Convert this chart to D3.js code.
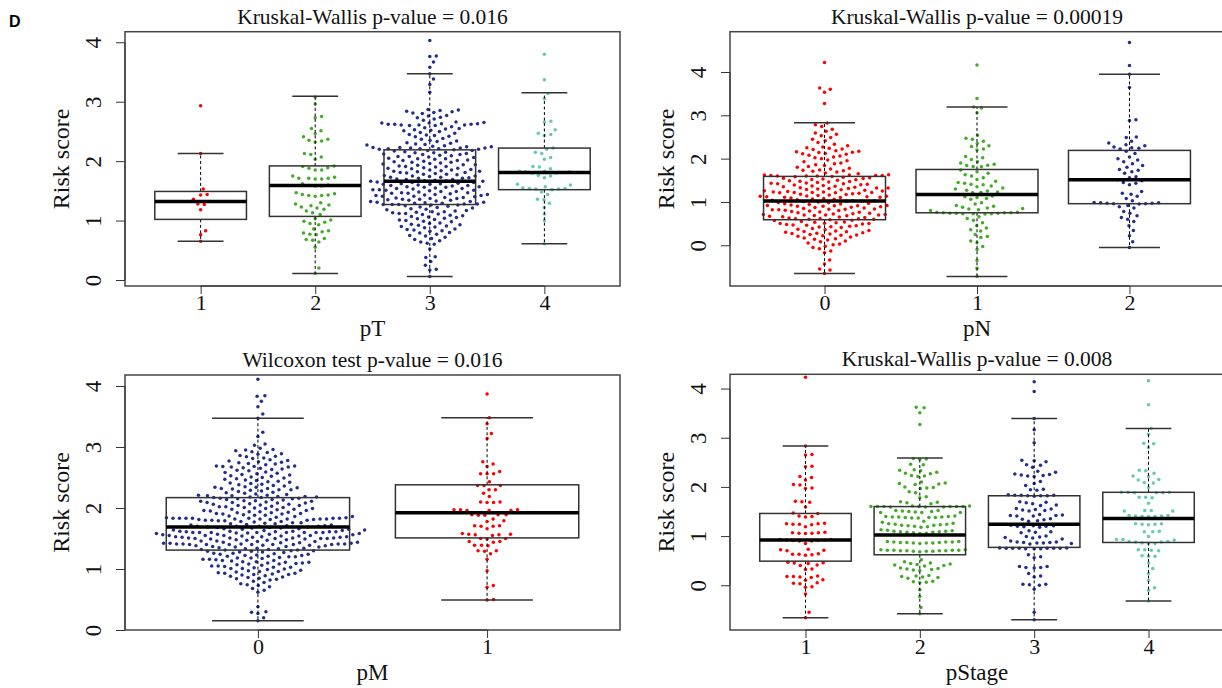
<!DOCTYPE html>
<html><head><meta charset="utf-8">
<script src="https://cdn.jsdelivr.net/npm/d3@7"></script>
<style>body{margin:0;background:#fff;} svg{display:block;font-family:"Liberation Serif","Times New Roman",serif;}</style>
</head><body><svg id="chart" width="1222" height="688"></svg>
<script>
// ---------------- DATA ----------------
const pTCategories = ["1", "2", "3", "4"];
const pNCategories = ["0", "1", "2"];
const pMCategories = ["0", "1"];
const pStageCategories = ["1", "2", "3", "4"];
const yTickValues = [0, 1, 2, 3, 4];

const titles = ["Kruskal-Wallis p-value = 0.016", "Kruskal-Wallis p-value = 0.00019",
                "Wilcoxon test p-value = 0.016", "Kruskal-Wallis p-value = 0.008"];
const xLabels = ["pT", "pN", "pM", "pStage"];

// box stats: [lower whisker, Q1, median, Q3, upper whisker]
const pTBoxes = [[0.65, 1.02, 1.32, 1.49, 2.13], [0.11, 1.07, 1.59, 1.92, 3.09], [0.06, 1.27, 1.66, 2.19, 3.47], [0.61, 1.52, 1.81, 2.22, 3.15]];
const pNBoxes = [[-0.65, 0.59, 1.02, 1.59, 2.83], [-0.72, 0.75, 1.17, 1.75, 3.19], [-0.05, 0.96, 1.51, 2.19, 3.95]];
const pMBoxes = [[0.15, 1.31, 1.69, 2.17, 3.47], [0.49, 1.51, 1.92, 2.38, 3.48]];
const pStageBoxes = [[-0.66, 0.49, 0.92, 1.46, 2.83], [-0.58, 0.62, 1.02, 1.60, 2.59], [-0.70, 0.77, 1.24, 1.82, 3.39], [-0.32, 0.87, 1.36, 1.89, 3.19]];

const pT1 = [2.93, 2.13, 1.53, 1.44, 1.43, 1.36, 1.28, 1.27, 1.18, 0.83, 0.76, 0.65];
const pT2 = [3.08, 2.96, 2.75, 2.73, 2.55, 2.51, 2.46, 2.41, 2.37, 2.35, 2.34, 2.32,
  2.13, 2.11, 2.07, 2.03, 1.92, 1.91, 1.89, 1.88, 1.85, 1.85,
  1.75, 1.73, 1.71, 1.71, 1.70, 1.70, 1.71, 1.62, 1.60, 1.59, 1.58, 1.58,
  1.47, 1.45, 1.44, 1.43, 1.42, 1.42, 1.41,
  1.30, 1.28, 1.26, 1.25, 1.23, 1.21, 1.19, 1.16, 1.13, 1.10,
  1.03, 1.01, 0.99, 0.97, 0.95, 0.93, 0.86, 0.83, 0.81, 0.79, 0.77, 0.76,
  0.70, 0.68, 0.67, 0.64, 0.55, 0.20, 0.11];
const pT3 = [4.03, 3.77, 3.76, 3.67, 3.58, 3.47, 3.38, 3.29, 3.16,
  2.87, 2.86, 2.85, 2.84, 2.83, 2.82, 2.81, 2.80,
  2.77, 2.76, 2.74, 2.73, 2.71, 2.69,
  2.66, 2.65, 2.64, 2.64, 2.63, 2.63, 2.62, 2.62, 2.62, 2.61, 2.61, 2.61, 2.60, 2.60,
  2.58, 2.56, 2.55, 2.54, 2.53, 2.52, 2.51, 2.50,
  2.48, 2.47, 2.45, 2.44, 2.43, 2.42, 2.41,
  2.38, 2.37, 2.35, 2.34, 2.33, 2.31, 2.30,
  2.29, 2.28, 2.27, 2.26, 2.25, 2.24, 2.24, 2.23, 2.23, 2.22, 2.22, 2.22, 2.21, 2.21, 2.21, 2.20, 2.20,
  2.19, 2.18, 2.18, 2.17, 2.16, 2.15, 2.14, 2.14, 2.13, 2.12, 2.11, 2.11, 2.10,
  2.09, 2.08, 2.08, 2.07, 2.06, 2.05, 2.04, 2.04, 2.03, 2.02, 2.01, 2.01, 2.00,
  1.99, 1.98, 1.98, 1.97, 1.96, 1.95, 1.94, 1.94, 1.93, 1.92, 1.91, 1.91, 1.90,
  1.89, 1.88, 1.88, 1.87, 1.86, 1.85, 1.85, 1.84, 1.83, 1.83, 1.82, 1.81, 1.81, 1.80,
  1.79, 1.78, 1.78, 1.77, 1.76, 1.75, 1.75, 1.74, 1.73, 1.73, 1.72, 1.71, 1.71, 1.70,
  1.69, 1.69, 1.68, 1.67, 1.67, 1.66, 1.66, 1.65, 1.64, 1.64, 1.63, 1.62, 1.62, 1.61, 1.61, 1.60,
  1.59, 1.59, 1.58, 1.57, 1.57, 1.56, 1.56, 1.55, 1.54, 1.54, 1.53, 1.52, 1.52, 1.51, 1.51, 1.50,
  1.49, 1.49, 1.48, 1.47, 1.47, 1.46, 1.46, 1.45, 1.44, 1.44, 1.43, 1.42, 1.42, 1.41, 1.41, 1.40,
  1.39, 1.39, 1.38, 1.37, 1.37, 1.36, 1.36, 1.35, 1.34, 1.34, 1.33, 1.32, 1.32, 1.31, 1.31, 1.30,
  1.29, 1.29, 1.28, 1.28, 1.27, 1.27, 1.27, 1.26, 1.26, 1.25, 1.24, 1.23, 1.22, 1.21, 1.20,
  1.19, 1.18, 1.17, 1.16, 1.15, 1.15, 1.14, 1.13, 1.12, 1.12, 1.11, 1.10,
  1.09, 1.08, 1.07, 1.06, 1.05, 1.04, 1.03, 1.02, 1.01, 1.00,
  0.99, 0.98, 0.96, 0.95, 0.94, 0.93, 0.92, 0.91, 0.90,
  0.89, 0.88, 0.86, 0.85, 0.84, 0.83, 0.82, 0.80,
  0.79, 0.77, 0.75, 0.74, 0.72, 0.70, 0.68, 0.66, 0.64, 0.62, 0.60,
  0.52, 0.39, 0.38, 0.31, 0.25, 0.18, 0.17, 0.06];
const pT4 = [3.80, 3.37, 3.14, 3.05, 2.67, 2.66, 2.53, 2.47, 2.45, 2.43, 2.22, 2.20, 2.15, 2.13, 2.06, 2.03,
  1.91, 1.90, 1.87, 1.83, 1.83, 1.82, 1.82, 1.81, 1.80, 1.80, 1.76, 1.75, 1.72,
  1.61, 1.60, 1.57, 1.55, 1.54, 1.54, 1.53, 1.53, 1.52, 1.48, 1.44, 1.36, 1.35, 1.29, 1.22, 1.11, 1.00, 0.61];

const pN0 = [4.22, 3.63, 3.60, 3.53, 3.27,
  2.82, 2.78, 2.74, 2.68, 2.63, 2.59, 2.56, 2.53, 2.49, 2.45, 2.41, 2.37, 2.33, 2.30, 2.27, 2.25, 2.24, 2.22, 2.21,
  2.18, 2.17, 2.16, 2.15, 2.14, 2.12, 2.11, 2.10, 2.08, 2.06, 2.04, 2.02, 2.00,
  1.97, 1.95, 1.93, 1.90, 1.88, 1.86, 1.84, 1.82, 1.80, 1.78, 1.76, 1.74, 1.73, 1.72, 1.71,
  1.69, 1.67, 1.65, 1.63, 1.62, 1.62, 1.61, 1.61, 1.61, 1.60, 1.60, 1.60,
  1.59, 1.58, 1.57, 1.56, 1.55, 1.54, 1.53, 1.52, 1.51, 1.50,
  1.49, 1.48, 1.47, 1.46, 1.45, 1.44, 1.43, 1.42, 1.42, 1.41, 1.40,
  1.39, 1.38, 1.37, 1.36, 1.35, 1.34, 1.33, 1.32, 1.32, 1.31, 1.31, 1.30,
  1.29, 1.28, 1.27, 1.26, 1.25, 1.24, 1.23, 1.23, 1.22, 1.22, 1.22, 1.21, 1.21, 1.20,
  1.19, 1.18, 1.17, 1.16, 1.15, 1.14, 1.13, 1.13, 1.12, 1.12, 1.11, 1.11, 1.10,
  1.09, 1.08, 1.07, 1.06, 1.05, 1.04, 1.03, 1.03, 1.02, 1.02,
  1.01, 1.00, 0.99, 0.98, 0.97, 0.96, 0.95, 0.94, 0.93, 0.92, 0.92, 0.91, 0.91, 0.90, 0.90,
  0.89, 0.88, 0.87, 0.86, 0.85, 0.84, 0.83, 0.83, 0.82, 0.82, 0.81, 0.80,
  0.79, 0.78, 0.77, 0.76, 0.75, 0.74, 0.73, 0.72, 0.71, 0.71, 0.70, 0.70, 0.70, 0.69,
  0.68, 0.67, 0.66, 0.65, 0.64, 0.63, 0.62, 0.61, 0.61, 0.60, 0.60, 0.59,
  0.58, 0.57, 0.55, 0.54, 0.53, 0.52, 0.51, 0.50, 0.50,
  0.49, 0.48, 0.47, 0.46, 0.45, 0.44, 0.43, 0.42, 0.41,
  0.39, 0.37, 0.36, 0.34, 0.33, 0.32, 0.31, 0.30,
  0.29, 0.28, 0.27, 0.26, 0.25, 0.24, 0.23, 0.22, 0.21,
  0.19, 0.17, 0.15, 0.14, 0.12, 0.10, 0.08, 0.05, 0.03, 0.01,
  -0.02, -0.05, -0.08, -0.13, -0.17, -0.34, -0.43, -0.55, -0.57, -0.65];
const pN1 = [4.16, 3.39, 3.19, 3.17, 3.06,
  2.54, 2.47, 2.45, 2.40, 2.35, 2.30, 2.28, 2.22, 2.20,
  2.05, 2.02, 1.98, 1.93, 1.90, 1.87, 1.85, 1.84, 1.82, 1.81,
  1.74, 1.70, 1.66, 1.63, 1.60, 1.56, 1.52, 1.48, 1.45, 1.43, 1.41, 1.40,
  1.37, 1.35, 1.32, 1.30, 1.27, 1.25, 1.23, 1.22, 1.21,
  1.17, 1.14, 1.12, 1.10, 1.08, 1.06,
  0.98, 0.95, 0.92, 0.90, 0.88, 0.86, 0.85, 0.84, 0.82, 0.80,
  0.76, 0.76, 0.75, 0.75, 0.75, 0.74, 0.74, 0.74, 0.73, 0.73, 0.73, 0.72,
  0.66, 0.62, 0.58, 0.52, 0.45, 0.40, 0.36, 0.33, 0.25,
  0.20, 0.18, 0.10, 0.06, -0.03, -0.10, -0.35, -0.53, -0.72];
const pN2 = [4.68, 4.15, 3.95, 3.64, 2.90, 2.88,
  2.50, 2.49, 2.40, 2.36, 2.32, 2.30, 2.27, 2.25, 2.24, 2.22,
  2.17, 2.12, 2.04, 2.00, 1.97, 1.93,
  1.88, 1.84, 1.80, 1.75, 1.73, 1.70, 1.66,
  1.58, 1.56, 1.51, 1.49, 1.45, 1.43, 1.40,
  1.24, 1.20, 1.18, 1.13, 1.08, 1.03,
  0.99, 0.98, 0.98, 0.97, 0.97, 0.96, 0.96, 0.95, 0.92, 0.89, 0.86,
  0.78, 0.74, 0.68, 0.64, 0.60, 0.55, 0.45, 0.34, 0.22, 0.08, -0.05];

const pM0 = [4.11, 3.84, 3.83, 3.75, 3.66, 3.54, 3.47, 3.24, 3.17, 3.05, 3.03,
  2.98, 2.96, 2.95, 2.94, 2.92, 2.91,
  2.89, 2.88, 2.86, 2.85, 2.84, 2.82, 2.81,
  2.79, 2.78, 2.77, 2.76, 2.75, 2.74, 2.73, 2.72, 2.71,
  2.69, 2.69, 2.68, 2.68, 2.67, 2.67, 2.66, 2.65, 2.64, 2.63, 2.62, 2.61,
  2.59, 2.58, 2.57, 2.56, 2.55, 2.54, 2.53, 2.52, 2.51, 2.50,
  2.49, 2.48, 2.47, 2.46, 2.45, 2.44, 2.43, 2.42, 2.41, 2.40,
  2.39, 2.38, 2.37, 2.36, 2.35, 2.34, 2.34, 2.33, 2.32, 2.32, 2.31, 2.30, 2.30,
  2.29, 2.28, 2.27, 2.26, 2.25, 2.24, 2.23, 2.22, 2.21, 2.21, 2.20, 2.20,
  2.19, 2.19, 2.18, 2.18, 2.17, 2.17, 2.16, 2.16, 2.15, 2.15, 2.14, 2.14, 2.13, 2.12, 2.12, 2.11, 2.11, 2.10,
  2.09, 2.09, 2.08, 2.08, 2.07, 2.06, 2.06, 2.05, 2.04, 2.04, 2.03, 2.02, 2.02, 2.01, 2.01, 2.00,
  1.99, 1.99, 1.98, 1.98, 1.97, 1.96, 1.96, 1.95, 1.94, 1.94, 1.93, 1.92, 1.92, 1.91, 1.91, 1.90, 1.90,
  1.89, 1.88, 1.88, 1.87, 1.86, 1.86, 1.85, 1.84, 1.84, 1.83, 1.83, 1.83, 1.83, 1.83, 1.83, 1.83,
  1.82, 1.82, 1.82, 1.82, 1.82, 1.81, 1.81, 1.81, 1.80, 1.80, 1.80,
  1.79, 1.79, 1.78, 1.78, 1.77, 1.76, 1.76, 1.75, 1.74, 1.74, 1.73, 1.72, 1.72, 1.71, 1.71, 1.70, 1.70, 1.70, 1.70,
  1.69, 1.69, 1.68, 1.68, 1.67, 1.67, 1.66, 1.66, 1.65, 1.65, 1.64, 1.64, 1.63, 1.63, 1.62, 1.62, 1.62,
  1.61, 1.61, 1.61, 1.61, 1.60, 1.60, 1.60, 1.60, 1.60, 1.60, 1.60, 1.60,
  1.59, 1.59, 1.58, 1.58, 1.57, 1.57, 1.56, 1.56, 1.55, 1.55, 1.55, 1.55, 1.54, 1.54, 1.54,
  1.53, 1.53, 1.53, 1.52, 1.52, 1.52, 1.51, 1.51, 1.51, 1.51, 1.50, 1.50, 1.50, 1.50,
  1.49, 1.49, 1.48, 1.48, 1.47, 1.47, 1.46, 1.46, 1.45, 1.45, 1.44, 1.44, 1.43, 1.43, 1.42,
  1.42, 1.42, 1.41, 1.41, 1.41, 1.41, 1.41, 1.40, 1.40, 1.40, 1.40, 1.40, 1.40, 1.40,
  1.39, 1.39, 1.38, 1.38, 1.37, 1.37, 1.36, 1.36, 1.35, 1.34, 1.34, 1.33, 1.33, 1.32, 1.32, 1.31, 1.31, 1.30, 1.30,
  1.29, 1.29, 1.28, 1.28, 1.27, 1.26, 1.26, 1.25, 1.24, 1.24, 1.23, 1.22, 1.22, 1.21, 1.21, 1.20, 1.20,
  1.19, 1.18, 1.18, 1.17, 1.16, 1.16, 1.15, 1.14, 1.14, 1.13, 1.12, 1.12, 1.11, 1.11, 1.10, 1.10,
  1.09, 1.08, 1.08, 1.07, 1.06, 1.05, 1.05, 1.04, 1.03, 1.03, 1.02, 1.01, 1.01, 1.00,
  0.99, 0.98, 0.97, 0.96, 0.96, 0.95, 0.94, 0.93, 0.93, 0.92, 0.91, 0.91, 0.90,
  0.89, 0.88, 0.87, 0.86, 0.85, 0.84, 0.83, 0.82, 0.80,
  0.78, 0.76, 0.74, 0.73, 0.71, 0.68, 0.65, 0.62,
  0.38, 0.30, 0.29, 0.27, 0.20, 0.15];
const pM1 = [3.87, 3.48, 3.38, 3.22, 3.14,
  2.76, 2.72, 2.68, 2.60, 2.56, 2.56, 2.56, 2.43, 2.37, 2.37, 2.37, 2.30, 2.30, 2.24, 2.19,
  2.10, 2.10, 2.09, 2.09, 1.97, 1.97, 1.97, 1.96, 1.96, 1.96, 1.89, 1.89, 1.89, 1.88, 1.88,
  1.82, 1.79, 1.78, 1.71, 1.71, 1.70, 1.70, 1.66,
  1.58, 1.57, 1.57, 1.56, 1.56, 1.55, 1.50, 1.50, 1.49, 1.45, 1.45, 1.44,
  1.39, 1.39, 1.38, 1.30, 1.30, 1.29, 1.25, 1.16, 0.97, 0.73, 0.70, 0.50, 0.49];

const pStage1 = [4.23, 2.83, 2.66, 2.65, 2.42, 2.41, 2.21, 2.19, 2.14, 2.05, 2.04, 1.98, 1.97,
  1.71, 1.70, 1.69, 1.59, 1.47, 1.46, 1.41, 1.40, 1.39,
  1.26, 1.25, 1.25, 1.24, 1.24, 1.23, 1.19, 1.08, 1.07, 1.07, 1.06, 1.06, 1.05,
  0.93, 0.93, 0.92, 0.92, 0.91, 0.91, 0.90, 0.90, 0.85,
  0.73, 0.72, 0.71, 0.70, 0.64, 0.63, 0.63, 0.62, 0.61,
  0.47, 0.46, 0.45, 0.44, 0.41, 0.40, 0.33, 0.32,
  0.19, 0.18, 0.18, 0.17, 0.16, 0.11, 0.10, 0.05, 0.04, 0.03, -0.03, -0.04, -0.18, -0.55, -0.66];
const pStage2 = [3.62, 3.61, 3.51, 3.27,
  2.58, 2.57, 2.56, 2.46, 2.45, 2.35, 2.34, 2.33, 2.30, 2.28, 2.27, 2.23, 2.22, 2.21,
  2.10, 2.08, 2.07, 2.06, 2.05, 2.00, 1.99, 1.98, 1.97, 1.90, 1.88,
  1.80, 1.78, 1.70, 1.69, 1.68, 1.66, 1.61, 1.61, 1.60, 1.60, 1.60, 1.60, 1.60, 1.60, 1.60, 1.59, 1.59, 1.59,
  1.52, 1.52, 1.51, 1.50, 1.50, 1.49, 1.48, 1.48, 1.48, 1.41, 1.40, 1.40, 1.39, 1.39, 1.39, 1.38, 1.38, 1.38, 1.37, 1.37,
  1.30, 1.28, 1.26, 1.25, 1.24, 1.24, 1.23, 1.22, 1.22, 1.21, 1.20, 1.19, 1.18,
  1.13, 1.12, 1.11, 1.10, 1.10, 1.09, 1.09, 1.08, 1.08, 1.07, 1.06, 1.05,
  0.89, 0.89, 0.88, 0.88, 0.88, 0.87, 0.87, 0.87, 0.86, 0.86, 0.86, 0.85,
  0.72, 0.72, 0.71, 0.71, 0.71, 0.71, 0.70, 0.70, 0.70, 0.70, 0.69, 0.69, 0.69, 0.68,
  0.52, 0.48, 0.45, 0.44, 0.43, 0.42, 0.41, 0.40, 0.39, 0.35, 0.34, 0.33, 0.32, 0.31, 0.30,
  0.20, 0.19, 0.18, 0.17, 0.16, 0.14, 0.08, 0.07, 0.06, 0.05, -0.09, -0.23, -0.45, -0.58];
const pStage3 = [4.14, 3.94, 3.39, 3.16, 2.90,
  2.54, 2.53, 2.51, 2.45, 2.44, 2.40, 2.32, 2.30, 2.26, 2.25, 2.24, 2.23, 2.22, 2.21,
  2.11, 2.07, 2.03, 1.95, 1.94, 1.93,
  1.84, 1.83, 1.83, 1.83, 1.82, 1.82, 1.82, 1.81,
  1.70, 1.69, 1.68, 1.66, 1.63, 1.62, 1.56, 1.55, 1.54, 1.53, 1.52, 1.51,
  1.44, 1.43, 1.42, 1.42, 1.41, 1.41, 1.35, 1.34, 1.33, 1.31, 1.30,
  1.22, 1.21, 1.21, 1.20, 1.20, 1.19, 1.18, 1.11, 1.09, 1.08, 1.07, 1.00, 0.99, 0.98, 0.97,
  0.96, 0.94, 0.90, 0.88, 0.88, 0.87, 0.87, 0.86, 0.86, 0.85, 0.84,
  0.76, 0.76, 0.75, 0.75, 0.75, 0.75, 0.75, 0.75, 0.74, 0.74, 0.74,
  0.62, 0.58, 0.56, 0.38, 0.38, 0.36, 0.36, 0.35,
  0.24, 0.19, 0.17, 0.02, 0.02, 0.01, 0.00, -0.08, -0.55, -0.70];
const pStage4 = [4.16, 3.67, 3.19, 3.07, 2.89, 2.88, 2.80,
  2.34, 2.33, 2.28, 2.22, 2.21, 2.15, 2.14, 2.09, 2.08, 1.99,
  1.89, 1.89, 1.89, 1.88, 1.88, 1.88, 1.79, 1.79, 1.78, 1.67,
  1.52, 1.52, 1.51, 1.51, 1.42, 1.42, 1.41, 1.41, 1.40, 1.40, 1.40,
  1.25, 1.25, 1.24, 1.24, 1.23, 1.10, 1.09, 1.09,
  0.99, 0.93, 0.93, 0.92, 0.89, 0.89, 0.88, 0.88, 0.86, 0.85, 0.85, 0.72, 0.72, 0.71, 0.70,
  0.60, 0.59, 0.59, 0.45, 0.34, 0.24, 0.10, -0.05, -0.10, -0.32];

// ---------------- STYLE / LAYOUT ----------------
const RED = "#FF0000", GREEN = "#44AA28", NAVY = "#232D8C", TEAL = "#66C8B8";
const panels = [
  {title: titles[0], xlab: xLabels[0], cats: pTCategories, groups: [pT1, pT2, pT3, pT4], boxes: pTBoxes,
   colors: [RED, GREEN, NAVY, TEAL], yDomain: [-0.101, 4.178], left: 125, right: 620, top: 31.7, bottom: 286},
  {title: titles[1], xlab: xLabels[1], cats: pNCategories, groups: [pN0, pN1, pN2], boxes: pNBoxes,
   colors: [RED, GREEN, NAVY], yDomain: [-0.94, 4.93], left: 730, right: 1224, top: 31.7, bottom: 286},
  {title: titles[2], xlab: xLabels[2], cats: pMCategories, groups: [pM0, pM1], boxes: pMBoxes,
   colors: [NAVY, RED], yDomain: [0, 4.18], left: 125, right: 620, top: 375, bottom: 630},
  {title: titles[3], xlab: xLabels[3], cats: pStageCategories, groups: [pStage1, pStage2, pStage3, pStage4], boxes: pStageBoxes,
   colors: [RED, GREEN, NAVY, TEAL], yDomain: [-0.91, 4.29], left: 730, right: 1224, top: 374.3, bottom: 630}
];
const SPACING = 6.5, DOT_R = 1.75;

// beeswarm "swarm" layout (ascending priority)
function swarm(ysPx, d) {
  const order = ysPx.map((_, i) => i).sort((a, b) => ysPx[b] - ysPx[a]);
  const xs = new Array(ysPx.length);
  const placed = [];
  for (const i of order) {
    const y = ysPx[i];
    const near = placed.filter(p => Math.abs(p.y - y) < d);
    const cands = [0];
    for (const p of near) {
      const dx = Math.sqrt(d * d - (p.y - y) ** 2);
      cands.push(p.x + dx, p.x - dx);
    }
    cands.sort((a, b) => (Math.abs(a) - Math.abs(b)) || (b - a));
    let best = 0;
    for (const c of cands) {
      if (near.every(p => (p.x - c) ** 2 + (p.y - y) ** 2 >= d * d - 1e-6)) { best = c; break; }
    }
    xs[i] = best;
    placed.push({x: best, y});
  }
  return xs;
}

const svg = d3.select("#chart");
svg.append("text").attr("x", 9).attr("y", 27).attr("font-family", "Liberation Sans, Arial, sans-serif")
  .attr("font-weight", "bold").attr("font-size", 16).text("D");

panels.forEach(P => {
  const n = P.cats.length;
  const x = d3.scaleLinear().domain([0.5 - 0.04 * n, n + 0.5 + 0.04 * n]).range([P.left, P.right]);
  const y = d3.scaleLinear().domain(P.yDomain).range([P.bottom, P.top]);
  const unit = x(2) - x(1);
  const g = svg.append("g");

  // points
  P.groups.forEach((vals, gi) => {
    const ys = vals.map(v => y(v));
    const xs = swarm(ys, SPACING);
    g.append("g").selectAll("circle").data(vals).join("circle")
      .attr("cx", (v, i) => x(gi + 1) + xs[i]).attr("cy", v => y(v))
      .attr("r", DOT_R).attr("fill", P.colors[gi]);
  });

  // boxplots
  P.boxes.forEach((b, gi) => {
    const cx = x(gi + 1), hw = 0.4 * unit, sw = 0.2 * unit;
    const bg = g.append("g");
    bg.append("line").attr("x1", cx).attr("x2", cx).attr("y1", y(b[3])).attr("y2", y(b[4]))
      .attr("stroke", "#000").attr("stroke-width", 1).attr("stroke-dasharray", "3,2.5");
    bg.append("line").attr("x1", cx).attr("x2", cx).attr("y1", y(b[1])).attr("y2", y(b[0]))
      .attr("stroke", "#000").attr("stroke-width", 1).attr("stroke-dasharray", "3,2.5");
    [b[0], b[4]].forEach(v => bg.append("line").attr("x1", cx - sw).attr("x2", cx + sw)
      .attr("y1", y(v)).attr("y2", y(v)).attr("stroke", "#333").attr("stroke-width", 1.5));
    bg.append("rect").attr("x", cx - hw).attr("width", 2 * hw).attr("y", y(b[3]))
      .attr("height", y(b[1]) - y(b[3])).attr("fill", "none").attr("stroke", "#333").attr("stroke-width", 1.5);
    bg.append("line").attr("x1", cx - hw).attr("x2", cx + hw).attr("y1", y(b[2])).attr("y2", y(b[2]))
      .attr("stroke", "#000").attr("stroke-width", 3.5);
  });

  // frame
  g.append("rect").attr("x", P.left).attr("y", P.top).attr("width", P.right - P.left)
    .attr("height", P.bottom - P.top).attr("fill", "none").attr("stroke", "#444").attr("stroke-width", 1.5);

  // axes
  const ya = g.append("g").attr("transform", `translate(${P.left},0)`)
    .call(d3.axisLeft(y).tickValues(yTickValues).tickFormat(d3.format("d")).tickSize(9).tickSizeOuter(0));
  ya.select(".domain").attr("d", `M0,${y(0)}V${y(4)}`).attr("stroke", "#333");
  ya.selectAll(".tick line").attr("stroke", "#333");
  ya.selectAll(".tick text").attr("transform", "rotate(-90)").attr("x", 0).attr("y", -24.5).attr("dy", 0)
    .attr("text-anchor", "middle").attr("font-family", "Liberation Serif, serif").attr("font-size", 23).attr("fill", "#111");

  const xa = g.append("g").attr("transform", `translate(0,${P.bottom})`)
    .call(d3.axisBottom(x).tickValues(d3.range(1, n + 1)).tickFormat(i => P.cats[i - 1]).tickSize(8).tickSizeOuter(0));
  xa.select(".domain").attr("d", `M${x(1)},0H${x(n)}`).attr("stroke", "#333");
  xa.selectAll(".tick line").attr("stroke", "#333");
  xa.selectAll(".tick text").attr("y", 24).attr("dy", 0).attr("font-family", "Liberation Serif, serif")
    .attr("font-size", 22).attr("fill", "#111");

  // labels
  const cxp = (P.left + P.right) / 2;
  g.append("text").attr("x", cxp).attr("y", P.top - 8).attr("text-anchor", "middle")
    .attr("font-size", 21.5).attr("fill", "#111").text(P.title);
  g.append("text").attr("x", cxp).attr("y", P.bottom + 50).attr("text-anchor", "middle")
    .attr("font-size", 23).attr("fill", "#111").text(P.xlab);
  g.append("text").attr("transform", `translate(${P.left - 56},${(P.top + P.bottom) / 2}) rotate(-90)`)
    .attr("text-anchor", "middle").attr("font-size", 24).attr("fill", "#111").text("Risk score");
});
</script></body></html>
